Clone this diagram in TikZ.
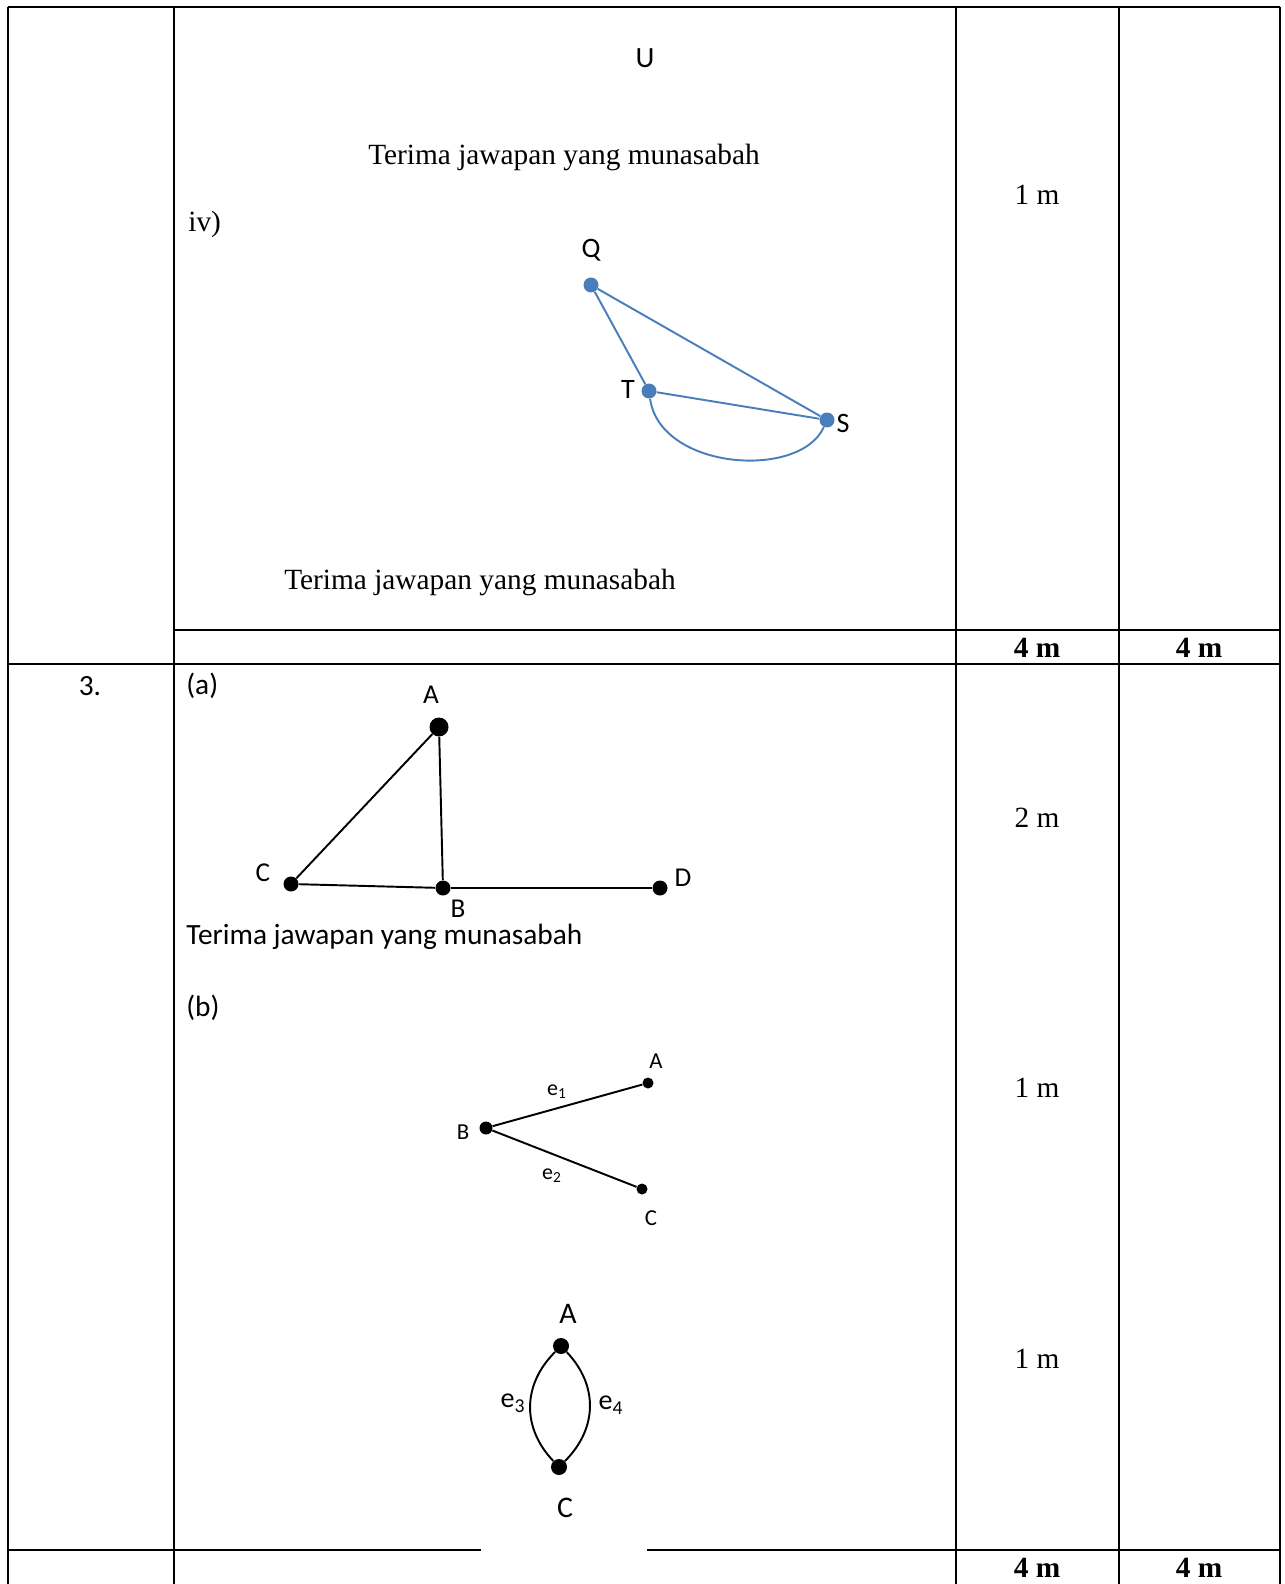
\documentclass[tikz,border=0pt]{standalone}
\usepackage{fontspec}
\setmainfont{Liberation Serif}
\newfontfamily\calibri{Carlito}
\definecolor{graphblue}{RGB}{74,126,187}
\begin{document}
\begin{tikzpicture}[
    x=0.02cm, y=-0.02cm,
    font=\fontsize{16.7}{20}\selectfont,
    rule/.style={line width=1.5pt},
    plain/.style={inner sep=0pt},
    sanstext/.style={inner sep=0pt, font=\fontsize{16.7}{20}\selectfont\calibri},
    marktotal/.style={inner sep=0pt, font=\fontsize{16.7}{20}\selectfont\bfseries},
    bluevertex/.style={circle, fill=graphblue, inner sep=0pt, minimum size=0.3cm},
    bluelabel/.style={inner sep=0pt, font=\fontsize{16}{18}\selectfont\calibri},
    blueedge/.style={draw=graphblue, line width=1.1pt},
    vertex/.style={circle, fill=black, inner sep=0pt, minimum size=#1},
    vertex/.default=0.3cm,
    vlabel/.style={inner sep=0pt, font=\fontsize{#1}{18}\selectfont\calibri},
    vlabel/.default=15.5,
    edge/.style={draw=black, line width=1.1pt}
]
    \useasboundingbox (0,0) rectangle (1284,1584);

    % table
    \draw[rule] (8,7) -- (1280,7);
    \foreach \xc in {8,174,956,1119,1280}
        \draw[rule] (\xc,7) -- (\xc,1584);
    \draw[rule] (174,630) -- (1280,630);
    \draw[rule] (8,664) -- (1280,664);
    \draw[rule] (8,1550) -- (481,1550);
    \draw[rule] (647,1550) -- (1280,1550);

    % first row
    \node[sanstext] (u) at (645,58) {U};
    \node[plain] (accept1) at (564,157) {Terima jawapan yang munasabah};
    \node[plain, anchor=west] (iv) at (188,224) {iv)};
    \node[plain] (mark1) at (1037,195) {1 m};

    \node[bluevertex] (q) at (591,285) {};
    \node[bluevertex] (t) at (649,391) {};
    \node[bluevertex] (s) at (827,420) {};
    \node[bluelabel] (qlabel) at (591,250) {Q};
    \node[bluelabel] (tlabel) at (628,389) {T};
    \node[bluelabel] (slabel) at (843,423) {S};
    \draw[blueedge] (q) -- (t);
    \draw[blueedge] (q) -- (s);
    \draw[blueedge] (t) -- (s);
    \draw[blueedge] (t) .. controls (660,470) and (800,480) .. (s);

    \node[plain] (accept2) at (480,582) {Terima jawapan yang munasabah};
    \node[marktotal] (total1) at (1037,648) {4 m};
    \node[marktotal] (total2) at (1199,648) {4 m};

    % question 3
    \node[sanstext] (num) at (90,686) {3.};
    \node[sanstext, anchor=west] (parta) at (186,686) {(a)};
    \node[plain] (mark2) at (1037,818) {2 m};

    \node[vertex, minimum width=0.38cm] (a) at (439,727) {};
    \node[vertex] (c) at (291,884) {};
    \node[vertex] (b) at (443,888) {};
    \node[vertex] (d) at (660,888) {};
    \node[vlabel] (alabel) at (431,695) {A};
    \node[vlabel] (clabel) at (263,873) {C};
    \node[vlabel] (blabel) at (458,909) {B};
    \node[vlabel] (dlabel) at (683,878) {D};
    \draw[edge] (a) -- (c);
    \draw[edge] (a) -- (b);
    \draw[edge] (c) -- (b);
    \draw[edge] (b) -- (d);

    \node[sanstext, anchor=west] (accept3) at (186,937) {Terima jawapan yang munasabah};
    \node[sanstext, anchor=west] (partb) at (186,1008) {(b)};
    \node[plain] (mark3) at (1037,1088) {1 m};

    \node[vertex=0.22cm] (ba) at (648,1083) {};
    \node[vertex=0.26cm] (bb) at (486,1128) {};
    \node[vertex=0.22cm] (bc) at (642,1189) {};
    \node[vlabel=13] (balabel) at (656,1061) {A};
    \node[vlabel=13] (bblabel) at (463,1132) {B};
    \node[vlabel=13] (bclabel) at (651,1218) {C};
    \node[vlabel=12.5] (e1) at (557,1092) {e\textsubscript{1}};
    \node[vlabel=12.5] (e2) at (552,1176) {e\textsubscript{2}};
    \draw[edge] (bb) -- (ba);
    \draw[edge] (bb) -- (bc);

    \node[plain] (mark4) at (1037,1359) {1 m};

    \node[vertex=0.32cm] (ca) at (561,1346) {};
    \node[vertex=0.32cm] (cc) at (559,1467) {};
    \node[vlabel=17] (calabel) at (568,1314) {A};
    \node[vlabel=17] (cclabel) at (565,1508) {C};
    \node[vlabel=16] (e3) at (513,1403) {e\textsubscript{3}};
    \node[vlabel=16] (e4) at (611,1405) {e\textsubscript{4}};
    \draw[edge] (ca) .. controls (522,1385) and (522,1428) .. (cc);
    \draw[edge] (ca) .. controls (598,1385) and (598,1428) .. (cc);

    \node[marktotal] (total3) at (1037,1568) {4 m};
    \node[marktotal] (total4) at (1199,1568) {4 m};
\end{tikzpicture}
\end{document}
